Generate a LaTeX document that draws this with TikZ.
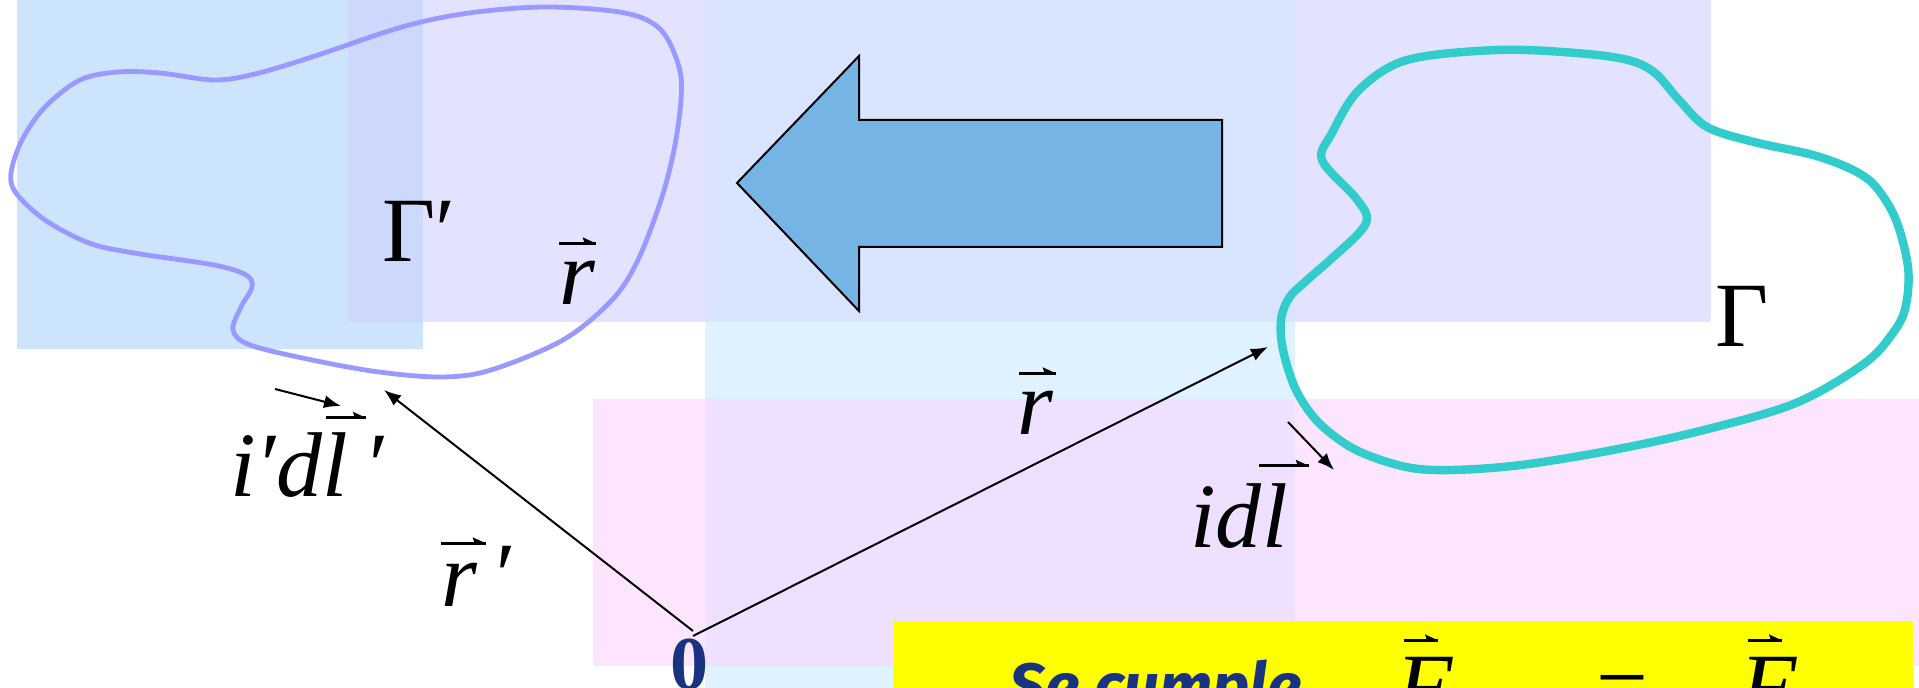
\documentclass[tikz,border=0pt]{standalone}
\usepackage{fontspec}
\setmainfont{Liberation Serif}
\newfontfamily\cfont{Fira Sans}
\usetikzlibrary{arrows.meta,calc}
\definecolor{bgA}{RGB}{204,229,252}
\definecolor{bgB}{RGB}{227,227,255}
\definecolor{bgAB}{RGB}{204,216,252}
\definecolor{bgC}{RGB}{224,242,255}
\definecolor{bgBC}{RGB}{217,229,255}
\definecolor{bgD}{RGB}{253,228,255}
\definecolor{bgCD}{RGB}{240,224,255}
\definecolor{arrowblue}{RGB}{117,180,228}
\definecolor{dkblue}{RGB}{26,51,128}
\definecolor{gpcol}{RGB}{153,153,255}
\definecolor{gcol}{RGB}{51,204,204}
\definecolor{ybox}{RGB}{255,255,0}
\newcommand\harp[4]{%
  \coordinate (hA) at ($(#1.north west)+(#2,-#4)$);
  \coordinate (hB) at ($(#1.north east)+(#3,-#4)$);
  \draw[vecline] (hA) -- (hB);
  \fill (hB) -- ++(-13,-6) -- ++(2,6) -- cycle;}
\begin{document}
\begin{tikzpicture}[x=0.5pt,y=-0.5pt,
  lbl/.style={font=\fontsize{46pt}{46pt}\selectfont\itshape, inner sep=0pt, anchor=base west},
  ulbl/.style={font=\fontsize{46pt}{46pt}\selectfont, inner sep=0pt, anchor=base west},
  vecline/.style={line width=1.3pt},
  conn/.style={line width=1pt, -{Latex[length=8.5pt,width=6.5pt]}}]
\useasboundingbox (0,0) rectangle (1919,688);
\clip (0,0) rectangle (1919,688);
% backgrounds
\fill[bgA] (17,0) rectangle (423,349);
\fill[bgB] (348,0) rectangle (1711,322);
\fill[bgAB] (348,0) rectangle (423,322);
\fill[bgC] (705,0) rectangle (1295,690);
\fill[bgBC] (705,0) rectangle (1295,322);
\fill[bgD] (593,399) rectangle (1919,666);
\fill[bgCD] (705,399) rectangle (1295,666);
\fill[ybox] (893,621) rectangle (1913,690);
% big arrow
\draw[fill=arrowblue, line width=1pt, line join=miter]
  (737,183) -- (859,56) -- (859,120) -- (1222,120) -- (1222,247) -- (859,247) -- (859,311) -- cycle;
% curve Gamma'
\draw[gpcol, line width=2.4pt] plot[smooth cycle, tension=0.55] coordinates {
 (80,80) (118,72) (160,73) (214,80) (255,74) (312,57) (402,27) (469,13) (547,7)
 (625,13) (661,30) (679,67) (681,100) (674,150) (661,200) (638,260) (612,300)
 (563,340) (491,370) (442,377) (379,372) (312,360) (250,345) (233,330) (241,307)
 (252,287) (246,275) (214,265) (134,253) (89,243) (45,220) (16,193) (11,173)
 (22,140) (45,107)};
% curve Gamma
\draw[gcol, line width=4.2pt] plot[smooth cycle, tension=0.55] coordinates {
 (1322,160) (1332,133) (1359,90) (1407,60) (1497,50) (1576,53) (1628,60) (1655,73)
 (1679,100) (1707,127) (1754,142) (1813,155) (1853,170) (1876,187) (1896,220)
 (1908,267) (1906,305) (1895,330) (1865,363) (1796,403) (1704,430) (1613,450)
 (1521,465) (1452,470) (1406,467) (1356,450) (1319,423) (1296,390) (1283,350)
 (1281,320) (1289,298) (1305,282) (1330,260) (1359,233) (1367,217) (1355,197)};
% labels
\node[ulbl] (gp) at (382,262) {Γ′};
\node[ulbl] (g) at (1715,347) {Γ};
\node[lbl] (rup) at (559,305) {r};
\harp{rup}{0}{0}{18}
\node[lbl] (rlow) at (1017,435) {r};
\harp{rlow}{2}{2}{18}
\node[lbl] (rp) at (441,607) {r};
\node[lbl] (rpp) at (490,607) {′};
\harp{rp}{0}{8}{20}
\node[lbl] (ipd) at (230,497) {i′d};
\node[lbl] (l1) at (ipd.base east) {l};
\node[lbl] (p1) at ($(l1.base east)+(14,0)$) {′};
\harp{l1}{4}{17}{15}
\node[lbl] (id) at (1190,548) {id};
\node[lbl] (l2) at (id.base east) {l};
\harp{l2}{-3}{20}{18}
% origin
\node[font=\fontsize{38pt}{38pt}\selectfont\bfseries, text=dkblue, inner sep=0pt, anchor=base] (zero) at (689,690) {0};
\coordinate (o1) at (693,631);
\coordinate (o2) at (693,636);
\coordinate (t1) at (384,390);
\coordinate (t2) at (1268,347);
\draw[conn] (o1) -- (t1);
\draw[conn] (o2) -- (t2);
\coordinate (s1) at (275,389);
\coordinate (e1) at (341,406);
\draw[conn] (s1) -- (e1);
\coordinate (s2) at (1288,422);
\coordinate (e2) at (1334,470);
\draw[conn] (s2) -- (e2);
% yellow box text
\node[font=\cfont\bfseries\itshape\fontsize{32pt}{32pt}\selectfont, text=dkblue, inner sep=0pt, anchor=base west] (sc) at (1009,709) {Se cumple};
\node[lbl] (F1) at (1396,718) {F};
\harp{F1}{8}{-15}{17}
\node[ulbl] (eq) at (1596,718) {=};
\node[lbl] (F2) at (1740,718) {F};
\harp{F2}{8}{-15}{17}
\end{tikzpicture}
\end{document}
